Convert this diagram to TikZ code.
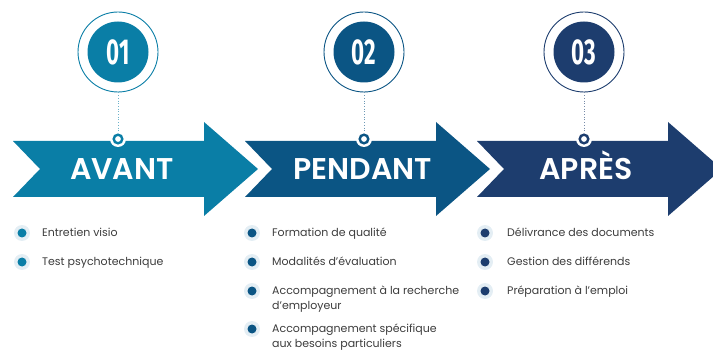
\documentclass[tikz,border=0pt]{standalone}
\usepackage{fontspec}
\setmainfont{Poppins}
\newfontfamily\headfont{Poppins SemiBold}
\newfontfamily\numfont{Fira Sans}
\usepackage{xcolor}
\usepackage{tikz}
\usetikzlibrary{positioning}

\definecolor{avantblue}{HTML}{0A7EA6}
\definecolor{pendantblue}{HTML}{0B5584}
\definecolor{apresblue}{HTML}{1D3D6E}
\definecolor{halogray}{HTML}{E4EEF4}
\definecolor{itemgray}{HTML}{3C3C3C}

\begin{document}
\begin{tikzpicture}[x=1pt,y=-1pt,
  ring/.style={circle,draw=#1,line width=0.9pt,minimum size=80pt,inner sep=0pt},
  numdisk/.style={circle,fill=#1,minimum size=61pt,inner sep=0pt,text=white,
    font=\numfont\bfseries\fontsize{36}{36}\selectfont},
  knob/.style={circle,fill=white,minimum size=16pt,inner sep=0pt,
    path picture={\draw[#1,line width=2.4pt] (path picture bounding box.center) circle (4.3pt);}},
  dotline/.style={draw=#1!60,dotted,line width=0.7pt},
  heading/.style={text=white,font=\headfont\fontsize{30}{30}\selectfont,inner sep=0pt,anchor=base},
  bullet/.style={circle,fill=halogray,minimum size=16pt,inner sep=0pt,
    path picture={\fill[#1] (path picture bounding box.center) circle (4.5pt);}},
  item/.style={text=itemgray,font=\fontsize{11}{15}\selectfont,inner sep=0pt,
    anchor=north west,align=left}]
\useasboundingbox (0,0) rectangle (713,350);

% arrows
\fill[avantblue] (13,141) -- (204,141) -- (204,122) -- (258,169) -- (204,216)
  -- (204,197) -- (13,197) -- (40,169) -- cycle;
\fill[pendantblue] (245,141) -- (436,141) -- (436,122) -- (490,169) -- (436,216)
  -- (436,197) -- (245,197) -- (272,169) -- cycle;
\fill[apresblue] (477,141) -- (668,141) -- (668,122) -- (722,169) -- (668,216)
  -- (668,197) -- (477,197) -- (504,169) -- cycle;

\node[heading] (avant) at (122,180) {AVANT};
\node[heading] (pendant) at (363,180) {PENDANT};
\node[heading] (apres) at (586,180) {APRÈS};

% step numbers
\node[ring=avantblue] (c1) at (118,52) {};
\node[numdisk=avantblue] (n1) at (c1.center) {\scalebox{0.62}[1]{01}};
\node[knob=avantblue] (k1) at (118,139) {};
\draw[dotline=avantblue] (c1.south) -- (k1.north);

\node[ring=pendantblue] (c2) at (364,52) {};
\node[numdisk=pendantblue] (n2) at (c2.center) {\scalebox{0.62}[1]{02}};
\node[knob=pendantblue] (k2) at (364,139) {};
\draw[dotline=pendantblue] (c2.south) -- (k2.north);

\node[ring=apresblue] (c3) at (584,52) {};
\node[numdisk=apresblue] (n3) at (c3.center) {\scalebox{0.62}[1]{03}};
\node[knob=apresblue] (k3) at (584,139) {};
\draw[dotline=apresblue] (c3.south) -- (k3.north);

% lists
\node[bullet=avantblue] (b11) at (22,233) {};
\node[item] (t11) at (42,227.5) {Entretien visio};
\node[bullet=avantblue] (b12) at (22,262) {};
\node[item] (t12) at (42,256.5) {Test psychotechnique};

\node[bullet=pendantblue] (b21) at (252,233) {};
\node[item] (t21) at (272,227.5) {Formation de qualité};
\node[bullet=pendantblue] (b22) at (252,262) {};
\node[item] (t22) at (272,256.5) {Modalités d’évaluation};
\node[bullet=pendantblue] (b23) at (252,291) {};
\node[item] (t23) at (272,285.5) {Accompagnement à la recherche\\d’employeur};
\node[bullet=pendantblue] (b24) at (252,329) {};
\node[item] (t24) at (272,323.5) {Accompagnement spécifique\\aux besoins particuliers};

\node[bullet=apresblue] (b31) at (485,233) {};
\node[item] (t31) at (507,227.5) {Délivrance des documents};
\node[bullet=apresblue] (b32) at (485,262) {};
\node[item] (t32) at (507,256.5) {Gestion des différends};
\node[bullet=apresblue] (b33) at (485,291) {};
\node[item] (t33) at (507,285.5) {Préparation à l’emploi};
\end{tikzpicture}
\end{document}
